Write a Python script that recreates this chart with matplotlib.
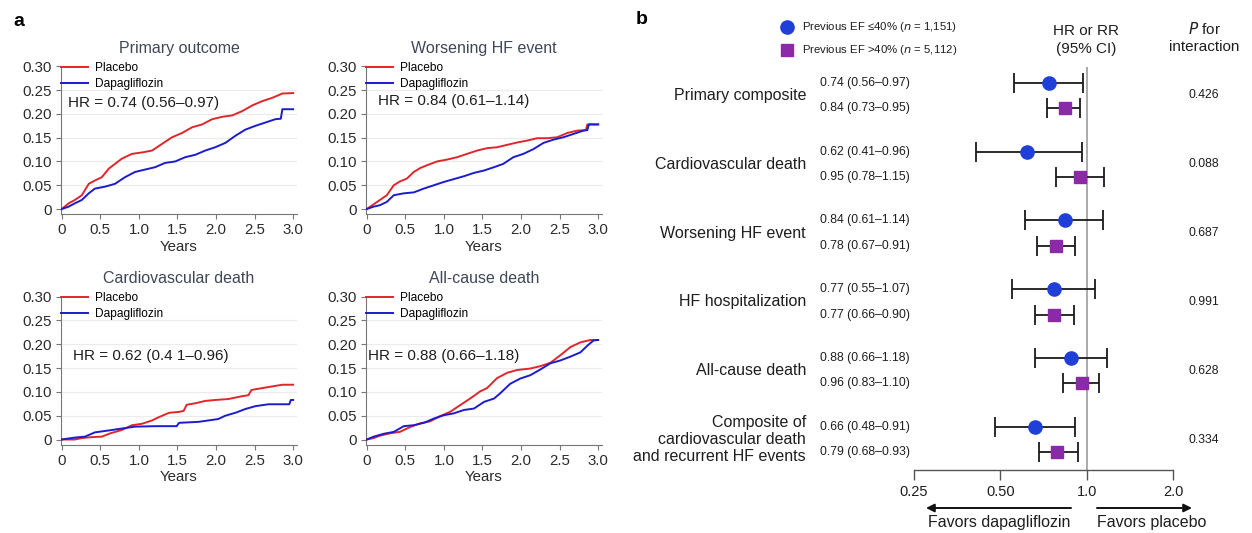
import numpy as np
import matplotlib.pyplot as plt
from matplotlib.lines import Line2D
from matplotlib.transforms import blended_transform_factory

plt.rcParams["font.family"] = ["Liberation Sans", "DejaVu Sans"]

W, H = 1252, 533

# ---------------- panel a: cumulative incidence curves ----------------
km_titles = ["Primary outcome", "Worsening HF event", "Cardiovascular death", "All-cause death"]
km_hr = ["HR = 0.74 (0.56–0.97)", "HR = 0.84 (0.61–1.14)",
         "HR = 0.62 (0.4 1–0.96)", "HR = 0.88 (0.66–1.18)"]

primary_pbo_t = [0, 0.09, 0.17, 0.26, 0.35, 0.43, 0.52, 0.61, 0.69, 0.78, 0.91, 1.04, 1.17, 1.30,
                 1.43, 1.56, 1.69, 1.82, 1.95, 2.08, 2.21, 2.34, 2.47, 2.60, 2.73, 2.86, 3.0]
primary_pbo_v = [0, 0.012, 0.019, 0.029, 0.053, 0.060, 0.067, 0.085, 0.095, 0.106, 0.116, 0.119,
                 0.123, 0.137, 0.151, 0.160, 0.172, 0.178, 0.189, 0.194, 0.197, 0.206, 0.218,
                 0.227, 0.234, 0.243, 0.244]
primary_dapa_t = [0, 0.09, 0.17, 0.26, 0.35, 0.43, 0.56, 0.69, 0.82, 0.95, 1.08, 1.21, 1.34, 1.47,
                  1.60, 1.73, 1.86, 1.99, 2.12, 2.25, 2.38, 2.51, 2.64, 2.77, 2.84, 2.86, 3.0]
primary_dapa_v = [0, 0.005, 0.012, 0.019, 0.033, 0.043, 0.047, 0.053, 0.067, 0.078, 0.083, 0.088,
                  0.097, 0.100, 0.109, 0.114, 0.123, 0.130, 0.139, 0.154, 0.167, 0.175, 0.182,
                  0.189, 0.190, 0.210, 0.210]

whf_pbo_t = [0, 0.09, 0.17, 0.26, 0.35, 0.43, 0.52, 0.61, 0.69, 0.78, 0.91, 1.04, 1.17, 1.30,
             1.43, 1.56, 1.69, 1.82, 1.95, 2.08, 2.21, 2.34, 2.47, 2.60, 2.73, 2.84, 2.86, 3.0]
whf_pbo_v = [0, 0.010, 0.019, 0.029, 0.050, 0.058, 0.064, 0.078, 0.086, 0.092, 0.100, 0.104,
             0.109, 0.116, 0.123, 0.128, 0.130, 0.135, 0.140, 0.144, 0.149, 0.149, 0.151, 0.160,
             0.165, 0.166, 0.178, 0.178]
whf_dapa_t = [0, 0.09, 0.17, 0.26, 0.35, 0.48, 0.61, 0.74, 0.87, 1.00, 1.13, 1.26, 1.39, 1.52,
              1.65, 1.77, 1.90, 2.03, 2.16, 2.29, 2.42, 2.55, 2.68, 2.81, 2.86, 2.88, 3.0]
whf_dapa_v = [0, 0.005, 0.008, 0.015, 0.029, 0.033, 0.035, 0.043, 0.050, 0.057, 0.063, 0.069,
              0.076, 0.081, 0.088, 0.095, 0.109, 0.116, 0.126, 0.139, 0.146, 0.151, 0.158,
              0.165, 0.166, 0.178, 0.178]

cvd_pbo_t = [0, 0.17, 0.26, 0.39, 0.52, 0.63, 0.78, 0.91, 1.04, 1.17, 1.26, 1.39, 1.52, 1.58,
             1.62, 1.73, 1.86, 1.99, 2.16, 2.34, 2.42, 2.46, 2.60, 2.86, 3.0]
cvd_pbo_v = [0, 0, 0.003, 0.005, 0.006, 0.013, 0.020, 0.030, 0.033, 0.040, 0.047, 0.056, 0.058,
             0.060, 0.073, 0.076, 0.081, 0.083, 0.085, 0.091, 0.093, 0.104, 0.108, 0.115, 0.115]
cvd_dapa_t = [0, 0.17, 0.30, 0.43, 0.61, 0.82, 0.95, 1.21, 1.49, 1.52, 1.77, 1.90, 2.03, 2.12,
              2.25, 2.38, 2.51, 2.68, 2.95, 2.97, 3.0]
cvd_dapa_v = [0, 0.004, 0.006, 0.015, 0.019, 0.024, 0.027, 0.028, 0.028, 0.035, 0.037, 0.040,
              0.043, 0.050, 0.056, 0.064, 0.070, 0.074, 0.074, 0.083, 0.083]

acd_pbo_t = [0, 0.09, 0.17, 0.30, 0.43, 0.56, 0.69, 0.82, 0.95, 1.08, 1.21, 1.34, 1.47, 1.56,
             1.69, 1.82, 1.95, 2.12, 2.25, 2.38, 2.51, 2.64, 2.77, 2.90, 3.0]
acd_pbo_v = [0, 0.003, 0.008, 0.013, 0.016, 0.026, 0.034, 0.038, 0.049, 0.058, 0.072, 0.086,
             0.101, 0.108, 0.129, 0.140, 0.146, 0.149, 0.154, 0.161, 0.177, 0.194, 0.204,
             0.209, 0.209]
acd_dapa_t = [0, 0.09, 0.22, 0.35, 0.48, 0.61, 0.74, 0.87, 1.00, 1.13, 1.26, 1.39, 1.52, 1.65,
              1.73, 1.86, 1.99, 2.12, 2.25, 2.38, 2.51, 2.64, 2.77, 2.86, 2.94, 3.0]
acd_dapa_v = [0, 0.006, 0.012, 0.016, 0.028, 0.030, 0.035, 0.044, 0.051, 0.055, 0.062, 0.065,
              0.079, 0.086, 0.097, 0.117, 0.128, 0.135, 0.147, 0.160, 0.166, 0.174, 0.183,
              0.197, 0.208, 0.209]

km_curves = [
    (primary_pbo_t, primary_pbo_v, primary_dapa_t, primary_dapa_v),
    (whf_pbo_t, whf_pbo_v, whf_dapa_t, whf_dapa_v),
    (cvd_pbo_t, cvd_pbo_v, cvd_dapa_t, cvd_dapa_v),
    (acd_pbo_t, acd_pbo_v, acd_dapa_t, acd_dapa_v),
]
km_hr_pos = [(0.08, 0.223), (0.15, 0.227), (0.15, 0.176), (0.02, 0.176)]

y_ticks = [0, 0.05, 0.10, 0.15, 0.20, 0.25, 0.30]
y_tick_labels = ["0", "0.05", "0.10", "0.15", "0.20", "0.25", "0.30"]
x_ticks = [0, 0.5, 1.0, 1.5, 2.0, 2.5, 3.0]
x_tick_labels = ["0", "0.5", "1.0", "1.5", "2.0", "2.5", "3.0"]

# ---------------- panel b: forest plot ----------------
outcomes = ["Primary composite", "Cardiovascular death", "Worsening HF event",
            "HF hospitalization", "All-cause death",
            "Composite of\ncardiovascular death\nand recurrent HF events"]
low_ef_hr = [0.74, 0.62, 0.84, 0.77, 0.88, 0.66]
low_ef_lo = [0.56, 0.41, 0.61, 0.55, 0.66, 0.48]
low_ef_hi = [0.97, 0.96, 1.14, 1.07, 1.18, 0.91]
high_ef_hr = [0.84, 0.95, 0.78, 0.77, 0.96, 0.79]
high_ef_lo = [0.73, 0.78, 0.67, 0.66, 0.83, 0.68]
high_ef_hi = [0.95, 1.15, 0.91, 0.90, 1.10, 0.93]
p_interaction = ["0.426", "0.088", "0.687", "0.991", "0.628", "0.334"]
forest_ticks = [0.25, 0.5, 1.0, 2.0]
forest_tick_labels = ["0.25", "0.50", "1.0", "2.0"]

RED = "#e0262b"
BLUE = "#1c1ccc"
TITLE_C = "#3f4857"
TXT = "#1e1e1e"
F_BLUE = "#1f3fd6"
F_PURPLE = "#8b2aa6"


def fx(px):
    return px / W


def fy(py):
    return 1 - py / H


def add_axes_px(fig, left, top, right, bottom):
    return fig.add_axes([fx(left), fy(bottom), (right - left) / W, (bottom - top) / H])


fig = plt.figure(figsize=(W / 100, H / 100), dpi=100)

# panel a
ax_boxes = [(61, 65.5, 297, 214), (366, 65.5, 602, 214),
            (61, 295.7, 297, 444.5), (366, 295.7, 602, 444.5)]
for i, box in enumerate(ax_boxes):
    ax = add_axes_px(fig, *box)
    tp, vp, td, vd = km_curves[i]
    ax.plot(tp, vp, color=RED, lw=1.4, label="Placebo", zorder=3)
    ax.plot(td, vd, color=BLUE, lw=1.4, label="Dapagliflozin", zorder=3)
    for yv in y_ticks[1:-1]:
        ax.axhline(yv, color="#ebebeb", lw=0.8, zorder=0)
    ax.set_xlim(-0.01, 3.05)
    ax.set_ylim(-0.0105, 0.302)
    ax.set_xticks(x_ticks)
    ax.set_xticklabels(x_tick_labels)
    ax.set_yticks(y_ticks)
    ax.set_yticklabels(y_tick_labels)
    ax.tick_params(labelsize=10.8, length=3.5, width=0.8, color="#777777",
                   labelcolor="#2b2b2b", pad=3)
    for s in ["top", "right"]:
        ax.spines[s].set_visible(False)
    for s in ["left", "bottom"]:
        ax.spines[s].set_color("#777777")
        ax.spines[s].set_linewidth(0.8)
    ax.spines["left"].set_bounds(-0.0105, 0.30)
    ax.set_xlabel("Years", fontsize=10.8, color="#2b2b2b", labelpad=2)
    ax.set_title(km_titles[i], fontsize=11.5, color=TITLE_C, pad=9)
    ax.legend(loc="upper left", bbox_to_anchor=(0.0, 1.025), frameon=False, fontsize=8.6,
              handlelength=2.3, handletextpad=0.55, labelspacing=0.35, borderpad=0,
              borderaxespad=0)
    ax.text(km_hr_pos[i][0], km_hr_pos[i][1], km_hr[i], fontsize=11, color=TXT,
            va="center", ha="left")

fig.text(fx(19), fy(21), "a", fontsize=14, fontweight="bold", ha="center", va="center")
fig.text(fx(642), fy(20), "b", fontsize=14, fontweight="bold", ha="center", va="center")

# panel b
axf = add_axes_px(fig, 914, 67, 1173, 470)
row_y = np.arange(len(outcomes), dtype=float)
off = 0.185
axf.set_xscale("log", base=2)
axf.set_xlim(0.25, 2.0)
axf.set_ylim(5.443, -0.414)
axf.axvline(1.0, color="#9c9c9c", lw=1.2, zorder=0)

lo_err = [np.array(low_ef_hr) - np.array(low_ef_lo), np.array(low_ef_hi) - np.array(low_ef_hr)]
hi_err = [np.array(high_ef_hr) - np.array(high_ef_lo), np.array(high_ef_hi) - np.array(high_ef_hr)]
axf.errorbar(low_ef_hr, row_y - off, xerr=lo_err, fmt="o", color=F_BLUE, ms=9.5,
             ecolor="#1a1a1a", elinewidth=1.3, capsize=7, capthick=1.3, zorder=3)
axf.errorbar(high_ef_hr, row_y + off, xerr=hi_err, fmt="s", color=F_PURPLE, ms=9,
             ecolor="#1a1a1a", elinewidth=1.3, capsize=7, capthick=1.3, zorder=3)

axf.set_xticks(forest_ticks)
axf.set_xticklabels(forest_tick_labels)
axf.xaxis.set_minor_locator(plt.NullLocator())
axf.set_yticks([])
for s in ["top", "right", "left"]:
    axf.spines[s].set_visible(False)
axf.spines["bottom"].set_color("#555555")
axf.spines["bottom"].set_linewidth(1.0)
axf.tick_params(axis="x", length=7, width=1.0, color="#555555", labelsize=10.5, pad=4,
                labelcolor=TXT)

tr = blended_transform_factory(fig.transFigure, axf.transData)
for i, name in enumerate(outcomes):
    axf.text(fx(806), row_y[i], name, transform=tr, ha="right", va="center",
             multialignment="right", fontsize=11.5, color=TXT, linespacing=1.15)
    ci_low = f"{low_ef_hr[i]:.2f} ({low_ef_lo[i]:.2f}–{low_ef_hi[i]:.2f})"
    ci_high = f"{high_ef_hr[i]:.2f} ({high_ef_lo[i]:.2f}–{high_ef_hi[i]:.2f})"
    axf.text(fx(910), row_y[i] - off, ci_low, transform=tr, ha="right", va="center",
             fontsize=8.8, color=TXT)
    axf.text(fx(910), row_y[i] + off, ci_high, transform=tr, ha="right", va="center",
             fontsize=8.8, color=TXT)
    axf.text(fx(1204), row_y[i], p_interaction[i], transform=tr, ha="center", va="center",
             fontsize=8.8, color=TXT)

# forest legend and headers
fig.add_artist(Line2D([fx(787)], [fy(27)], marker="o", ms=9.5, color=F_BLUE, ls="none"))
fig.add_artist(Line2D([fx(787)], [fy(50)], marker="s", ms=9, color=F_PURPLE, ls="none"))
fig.text(fx(802), fy(27), r"Previous EF ≤40% ($\it{n}$ = 1,151)", fontsize=8.2,
         va="center", ha="left", color=TXT)
fig.text(fx(802), fy(50), r"Previous EF >40% ($\it{n}$ = 5,112)", fontsize=8.2,
         va="center", ha="left", color=TXT)
fig.text(fx(1086), fy(31), "HR or RR", fontsize=11, ha="center", va="center", color=TXT)
fig.text(fx(1086), fy(49), "(95% CI)", fontsize=11, ha="center", va="center", color=TXT)
fig.text(fx(1204), fy(29), r"$\it{P}$ for", fontsize=11, ha="center", va="center", color=TXT)
fig.text(fx(1204), fy(47), "interaction", fontsize=11, ha="center", va="center", color=TXT)

# direction arrows
fig.add_artist(plt.Annotation("", xy=(fx(926), fy(508)), xytext=(fx(1071), fy(508)),
                              xycoords="figure fraction", textcoords="figure fraction",
                              arrowprops=dict(arrowstyle="-|>", color="#111111", lw=1.4,
                                              mutation_scale=12, shrinkA=0, shrinkB=0)))
fig.add_artist(plt.Annotation("", xy=(fx(1192), fy(508)), xytext=(fx(1097), fy(508)),
                              xycoords="figure fraction", textcoords="figure fraction",
                              arrowprops=dict(arrowstyle="-|>", color="#111111", lw=1.4,
                                              mutation_scale=12, shrinkA=0, shrinkB=0)))
fig.text(fx(999), fy(523), "Favors dapagliflozin", fontsize=11.5, ha="center",
         va="center", color=TXT)
fig.text(fx(1152), fy(523), "Favors placebo", fontsize=11.5, ha="center",
         va="center", color=TXT)

fig.savefig("out.png", dpi=100)
